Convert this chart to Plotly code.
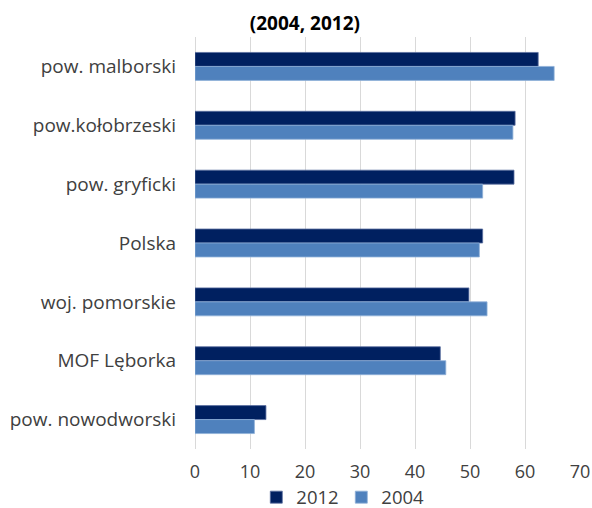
import plotly.graph_objects as go

categories = ["pow. malborski", "pow.kołobrzeski", "pow. gryficki", "Polska",
              "woj. pomorskie", "MOF Lęborka", "pow. nowodworski"]
values_2012 = [62.4, 58.2, 58.0, 52.3, 49.8, 44.6, 12.9]
values_2004 = [65.3, 57.8, 52.3, 51.7, 53.1, 45.6, 10.8]
tick_vals = [0, 10, 20, 30, 40, 50, 60, 70]

FONT = "Open Sans"

fig = go.Figure()
fig.add_trace(go.Bar(
    y=categories, x=values_2012, name="2012", orientation="h",
    marker=dict(color="#002060", line=dict(color="#5a6fa0", width=0.8)),
))
fig.add_trace(go.Bar(
    y=categories, x=values_2004, name="2004", orientation="h",
    marker=dict(color="#4F81BD", line=dict(color="#8fb0d8", width=0.8)),
))

fig.update_layout(
    width=592, height=508,
    margin=dict(l=195, r=12, t=37, b=59, autoexpand=False),
    paper_bgcolor="white", plot_bgcolor="white",
    barmode="group", bargap=0.525, bargroupgap=0,
    font=dict(family=FONT, size=18.5, color="#404040"),
    title=dict(text="<b>(2004, 2012)</b>", x=0.515, xanchor="center",
               xref="container", y=0.955, yref="container", yanchor="middle",
               font=dict(family=FONT, size=19, color="#000000")),
    xaxis=dict(range=[0, 70], tickvals=tick_vals, showgrid=True,
               gridcolor="#D9D9D9", gridwidth=1, zeroline=True,
               zerolinecolor="#D9D9D9", zerolinewidth=1, automargin=False,
               ticks="", tickfont=dict(size=18, color="#404040"),
               ticklabelstandoff=10, ticklabeloverflow="allow"),
    yaxis=dict(autorange="reversed", ticks="", showgrid=False, automargin=False,
               tickfont=dict(size=19, color="#404040"), ticklabelstandoff=18),
    legend=dict(orientation="h", x=0.38, xanchor="center", y=-0.118,
                yanchor="middle", font=dict(size=18.5, color="#404040"),
                bgcolor="rgba(0,0,0,0)",
                itemwidth=30, traceorder="normal",
                entrywidth=40, entrywidthmode="pixels"),
    showlegend=True,
)

fig.write_html(
    "out.html",
    config={"displayModeBar": False},
    post_script="document.body.style.margin='0';document.body.style.overflow='hidden';",
)
